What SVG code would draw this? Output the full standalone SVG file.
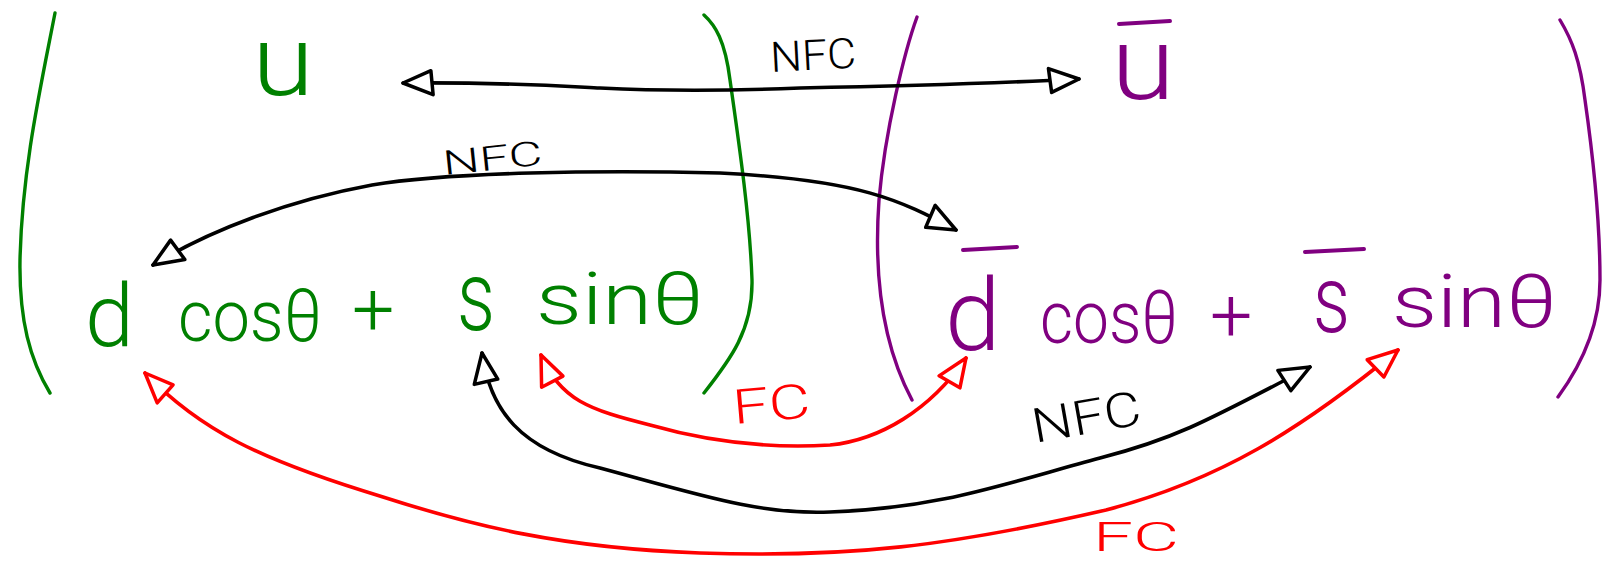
<svg xmlns="http://www.w3.org/2000/svg" width="1609" height="562" viewBox="0 0 1609 562">
<style>
.t{font-family:Roboto,Lato,"DejaVu Sans",sans-serif;font-weight:300}
.g{fill:#008000}
.p{fill:#800080}
.k{fill:#000}
.r{fill:#ff0000}
.br{fill:none;stroke-width:3.4;stroke-linecap:round}
.bar{stroke:#800080;stroke-width:4;stroke-linecap:round}
.c{fill:none;stroke-width:3.6;stroke-linecap:round;stroke-linejoin:round}
</style>
<defs>
<marker id="hk" viewBox="-34 -15 38 30" refX="0" refY="0" markerWidth="38" markerHeight="30" markerUnits="userSpaceOnUse" orient="auto-start-reverse"><path d="M0,0 L-30,-12 L-28,12 Z" fill="#fff" stroke="#000" stroke-width="3.5" stroke-linejoin="round"/></marker>
<marker id="hr" viewBox="-34 -15 38 30" refX="0" refY="0" markerWidth="38" markerHeight="30" markerUnits="userSpaceOnUse" orient="auto-start-reverse"><path d="M0,0 L-30,-12 L-28,12 Z" fill="#fff" stroke="#ff0000" stroke-width="3.5" stroke-linejoin="round"/></marker>
</defs>

<g id="brackets">
<path class="br" stroke="#008000" d="M55,13 C 40,90 22,170 20,260 C 19,320 30,360 50,393"/>
<path class="br" stroke="#008000" d="M704,15 C 715,25 725,40 730,80 C 740,150 750,220 752,280 C 753,330 730,360 704,393"/>
<path class="br" stroke="#800080" d="M917,17 C 905,50 885,130 879,200 C 874,270 880,340 912,400"/>
<path class="br" stroke="#800080" d="M1560,20 C 1572,40 1580,60 1585,100 C 1595,170 1600,230 1600,280 C 1600,320 1585,360 1558,397"/>
</g>

<g id="node-u">
<text class="t g" x="252" y="95" font-size="98" textLength="62" lengthAdjust="spacingAndGlyphs">u</text>
</g>

<g id="node-ubar">
<line class="bar" x1="1119" y1="24" x2="1170" y2="21"/>
<text class="t p" x="1111" y="99" font-size="102" textLength="64" lengthAdjust="spacingAndGlyphs">u</text>
</g>

<g id="node-ds">
<text class="t g" x="85" y="346" font-size="88">d</text>
<text class="t g" x="178" y="341" font-size="72" textLength="144" lengthAdjust="spacingAndGlyphs">cosθ</text>
<text class="t g" x="352" y="335" font-size="75">+</text>
<text class="t g" x="457" y="330" font-size="98" textLength="38" lengthAdjust="spacingAndGlyphs">s</text>
<text class="t g" x="536" y="324" font-size="72" textLength="168" lengthAdjust="spacingAndGlyphs">sinθ</text>
</g>

<g id="node-dsbar">
<line class="bar" x1="963" y1="250" x2="1017" y2="247"/>
<line class="bar" x1="1305" y1="252" x2="1364" y2="249"/>
<text class="t p" x="945" y="350" font-size="100">d</text>
<text class="t p" x="1040" y="343" font-size="75" textLength="138" lengthAdjust="spacingAndGlyphs">cosθ</text>
<text class="t p" x="1210" y="341" font-size="75">+</text>
<text class="t p" x="1313" y="332" font-size="95" textLength="37" lengthAdjust="spacingAndGlyphs">s</text>
<text class="t p" x="1392" y="327" font-size="75" textLength="165" lengthAdjust="spacingAndGlyphs">sinθ</text>
</g>

<g id="connectors">
<path class="c" stroke="#000" marker-start="url(#hk)" marker-end="url(#hk)" d="M403,83 C 500,82 560,86 600,88 C 680,92 750,90 800,88 C 900,86 1000,83 1079,79"/>
<path class="c" stroke="#000" marker-start="url(#hk)" marker-end="url(#hk)" d="M956,230 C 900,200 860,180 720,173 C 600,170 450,172 372,185 C 290,200 210,230 153,265"/>
<path class="c" stroke="#000" marker-start="url(#hk)" marker-end="url(#hk)" d="M482,353 C 490,410 520,450 600,468 C 700,495 760,515 830,512 C 940,508 1000,485 1100,458 C 1170,440 1200,425 1310,367"/>
<path class="c" stroke="#ff0000" marker-start="url(#hr)" marker-end="url(#hr)" d="M541,355 C 560,400 590,410 650,425 C 720,445 780,448 830,445 C 880,440 930,410 966,358"/>
<path class="c" stroke="#ff0000" marker-start="url(#hr)" marker-end="url(#hr)" d="M145,373 C 200,430 260,460 383,497 C 470,525 560,548 700,553 C 850,558 950,546 1106,510 C 1220,480 1300,430 1398,350"/>
<text class="t k" x="771" y="72" font-size="42" textLength="86" lengthAdjust="spacingAndGlyphs" transform="rotate(-3 771 72)">NFC</text>
<text class="t k" x="444" y="175" font-size="34" textLength="100" lengthAdjust="spacingAndGlyphs" transform="rotate(-6 444 175)">NFC</text>
<text class="t k" x="1035" y="443" font-size="48" textLength="110" lengthAdjust="spacingAndGlyphs" transform="rotate(-10 1035 443)">NFC</text>
<text class="t r" x="734" y="424" font-size="48" textLength="78" lengthAdjust="spacingAndGlyphs" transform="rotate(-5 734 424)">FC</text>
<text class="t r" x="1093" y="551" font-size="40" textLength="86" lengthAdjust="spacingAndGlyphs">FC</text>
</g>
</svg>
